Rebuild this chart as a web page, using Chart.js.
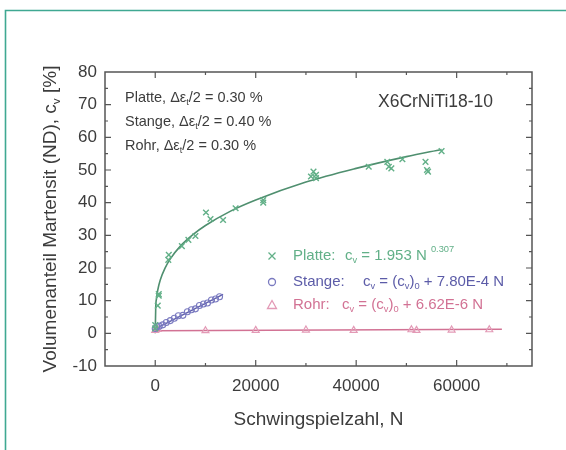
<!DOCTYPE html>
<html>
<head>
<meta charset="utf-8">
<script src="https://cdn.jsdelivr.net/npm/chart.js@4/dist/chart.umd.min.js"></script>
<style>
  html, body { margin: 0; padding: 0; background: #ffffff; }
  #wrap { position: relative; width: 566px; height: 450px; }
</style>
</head>
<body>
<div id="wrap"><canvas id="c" width="566" height="450"></canvas></div>
<script>
// Platte: measured martensite fraction vs. number of cycles
const platteN = [0, 0, 500, 700, 700, 2600, 2700, 5300, 6600, 8000, 10100, 11000, 13500, 16000, 21500, 21500,
                 31000, 31500, 32000, 32000, 42500, 46200, 46500, 47000, 49200, 53800, 54100, 54300, 57000];
const platteV = [1.5, 2.5, 8.5, 12.0, 11.5, 22.5, 24.0, 26.7, 28.6, 29.8, 37.0, 35.0, 34.7, 38.3, 40.8, 40.0,
                 48.0, 49.5, 47.5, 48.5, 51.0, 52.5, 51.0, 50.5, 53.3, 52.5, 50.0, 49.5, 55.8];

// Platte: power-law fit curve  c_v = 1.953 N^0.307
const fitPlatteN = [0, 100, 250, 500, 1000, 2000, 3000, 5000, 7500, 10000, 15000, 20000, 30000, 40000, 50000, 57000];
const fitPlatteV = [0, 8.0, 10.6, 13.2, 16.3, 20.1, 22.8, 26.7, 30.2, 33.0, 37.4, 40.8, 46.3, 50.5, 54.1, 56.3];

// Stange: measured values and linear fit
const stangeN = [0, 300, 800, 1500, 2200, 3000, 3800, 4600, 5500, 6400, 7200, 8000, 8800, 9600, 10400, 11200, 12000, 12800];
const stangeV = [1.5, 2.0, 2.2, 2.6, 3.3, 3.9, 4.6, 5.4, 5.5, 6.6, 7.2, 7.5, 8.5, 9.0, 9.3, 10.2, 10.5, 11.2];
const fitStangeN = [0, 13500];
const fitStangeV = [1.4, 11.93];

// Rohr: measured values and linear fit
const rohrN = [0, 500, 10000, 20000, 30000, 39500, 51000, 52000, 59000, 66500];
const rohrV = [0.9, 1.2, 0.8, 0.9, 1.0, 0.9, 1.1, 0.9, 1.0, 1.1];
const fitRohrN = [0, 69000];
const fitRohrV = [0.8, 1.26];

// axis ticks
const xTickValues = [0, 20000, 40000, 60000];
const xMinorValues = [-10000, 10000, 30000, 50000, 70000];
const yTickValues = [-10, 0, 10, 20, 30, 40, 50, 60, 70, 80];
const yMinorValues = [-5, 5, 15, 25, 35, 45, 55, 65, 75];

const FONT = '"Liberation Sans", Arial, sans-serif';
const TEXT = '#3c3c3c';
const GREEN = '#62b088';
const GREEN_LINE = '#4f8f6f';
const BLUE = '#7a7ac0';
const BLUE_LINE = '#5c5ca8';
const PINK = '#e39ab6';
const PINK_LINE = '#d27294';

function pts(xs, ys) { return xs.map((x, i) => ({ x: x, y: ys[i] })); }

// draws a run of text pieces, some of them as sub- or superscripts
function richWidth(ctx, parts, size) {
  let w = 0;
  parts.forEach(p => {
    const s = (p.sub || p.sup) ? size * 0.62 : size;
    ctx.font = s + 'px ' + FONT;
    w += ctx.measureText(p.t).width;
  });
  return w;
}
function drawRich(ctx, x, y, parts, size, color) {
  ctx.fillStyle = color;
  ctx.textBaseline = 'middle';
  ctx.textAlign = 'left';
  parts.forEach(p => {
    const s = (p.sub || p.sup) ? size * 0.62 : size;
    const dy = p.sub ? size * 0.32 : (p.sup ? -size * 0.42 : 0);
    ctx.font = s + 'px ' + FONT;
    ctx.fillText(p.t, x, y + dy);
    x += ctx.measureText(p.t).width;
  });
}

const decor = {
  id: 'decor',
  beforeDraw(chart) {
    const ctx = chart.ctx;
    ctx.save();
    // page frame
    ctx.strokeStyle = '#3fa892';
    ctx.lineWidth = 1.6;
    ctx.beginPath();
    ctx.moveTo(5.5, 450);
    ctx.lineTo(5.5, 10.5);
    ctx.lineTo(566, 10.5);
    ctx.stroke();
    ctx.restore();
  },
  afterDraw(chart) {
    const ctx = chart.ctx;
    const a = chart.chartArea;
    const xs = chart.scales.x, ys = chart.scales.y;
    ctx.save();
    // plot box
    ctx.strokeStyle = '#555555';
    ctx.lineWidth = 1.5;
    ctx.strokeRect(a.left, a.top, a.right - a.left, a.bottom - a.top);
    // inward ticks on all four sides
    ctx.lineWidth = 1.2;
    ctx.beginPath();
    const tickX = (v, len) => {
      const px = xs.getPixelForValue(v);
      if (px < a.left + 1 || px > a.right - 1) return;
      ctx.moveTo(px, a.bottom); ctx.lineTo(px, a.bottom - len);
      ctx.moveTo(px, a.top); ctx.lineTo(px, a.top + len);
    };
    const tickY = (v, len) => {
      const py = ys.getPixelForValue(v);
      if (py < a.top + 1 || py > a.bottom - 1) return;
      ctx.moveTo(a.left, py); ctx.lineTo(a.left + len, py);
      ctx.moveTo(a.right, py); ctx.lineTo(a.right - len, py);
    };
    xTickValues.forEach(v => tickX(v, 6));
    xMinorValues.forEach(v => tickX(v, 3));
    yTickValues.forEach(v => tickY(v, 6));
    yMinorValues.forEach(v => tickY(v, 3));
    ctx.stroke();

    // axis titles
    const xTitle = 'Schwingspielzahl, N';
    ctx.font = '19px ' + FONT;
    ctx.fillStyle = TEXT;
    ctx.textAlign = 'center';
    ctx.textBaseline = 'middle';
    ctx.fillText(xTitle, (a.left + a.right) / 2, 420);

    const yParts = [{ t: 'Volumenanteil Martensit (ND), c' }, { t: 'v', sub: true }, { t: ' [%]' }];
    const yw = richWidth(ctx, yParts, 19);
    ctx.save();
    ctx.translate(51, (a.top + a.bottom) / 2);
    ctx.rotate(-Math.PI / 2);
    drawRich(ctx, -yw / 2, 0, yParts, 19, TEXT);
    ctx.restore();

    // strain amplitudes
    const amp = [['Platte, ', '0.30 %', 98], ['Stange, ', '0.40 %', 122], ['Rohr, ', '0.30 %', 146]];
    amp.forEach(r => {
      drawRich(ctx, 125, r[2], [{ t: r[0] + 'Δε' }, { t: 't', sub: true }, { t: '/2 = ' + r[1] }], 14.5, TEXT);
    });

    // material
    ctx.font = '17.5px ' + FONT;
    ctx.fillStyle = TEXT;
    ctx.textAlign = 'left';
    ctx.textBaseline = 'middle';
    ctx.fillText('X6CrNiTi18-10', 378, 102);

    // legend with fit equations
    const lx = 272;
    // cross
    ctx.strokeStyle = GREEN; ctx.lineWidth = 1.3;
    ctx.beginPath();
    ctx.moveTo(lx - 3.5, 256 - 3.5); ctx.lineTo(lx + 3.5, 256 + 3.5);
    ctx.moveTo(lx + 3.5, 256 - 3.5); ctx.lineTo(lx - 3.5, 256 + 3.5);
    ctx.stroke();
    // circle
    ctx.strokeStyle = BLUE;
    ctx.beginPath(); ctx.arc(lx, 282, 3.5, 0, Math.PI * 2); ctx.stroke();
    // triangle
    ctx.strokeStyle = PINK;
    ctx.beginPath();
    ctx.moveTo(lx, 305 - 4.5); ctx.lineTo(lx + 4.5, 305 + 3.5); ctx.lineTo(lx - 4.5, 305 + 3.5); ctx.closePath();
    ctx.stroke();

    const LS = 15;
    drawRich(ctx, 293, 256, [{ t: 'Platte:' }], LS, GREEN);
    drawRich(ctx, 345, 256, [{ t: 'c' }, { t: 'v', sub: true }, { t: ' = 1.953 N ' }, { t: '0.307', sup: true }], LS, GREEN);
    drawRich(ctx, 293, 282, [{ t: 'Stange:' }], LS, BLUE_LINE);
    drawRich(ctx, 363, 282, [{ t: 'c' }, { t: 'v', sub: true }, { t: ' = (c' }, { t: 'v', sub: true }, { t: ')' }, { t: '0', sub: true }, { t: ' + 7.80E-4 N' }], LS, BLUE_LINE);
    drawRich(ctx, 293, 305, [{ t: 'Rohr:' }], LS, PINK_LINE);
    drawRich(ctx, 342, 305, [{ t: 'c' }, { t: 'v', sub: true }, { t: ' = (c' }, { t: 'v', sub: true }, { t: ')' }, { t: '0', sub: true }, { t: ' + 6.62E-6 N' }], LS, PINK_LINE);
    ctx.restore();
  }
};

new Chart(document.getElementById('c'), {
  type: 'scatter',
  data: {
    datasets: [
      { label: 'Rohr fit', data: pts(fitRohrN, fitRohrV), showLine: true, borderColor: PINK_LINE, borderWidth: 1.6, pointRadius: 0, order: 6 },
      { label: 'Stange fit', data: pts(fitStangeN, fitStangeV), showLine: true, borderColor: BLUE_LINE, borderWidth: 1.4, pointRadius: 0, order: 5 },
      { label: 'Platte fit', data: pts(fitPlatteN, fitPlatteV), showLine: true, borderColor: GREEN_LINE, borderWidth: 1.6, pointRadius: 0, tension: 0.3, cubicInterpolationMode: 'monotone', order: 4 },
      { label: 'Rohr', data: pts(rohrN, rohrV), pointStyle: 'triangle', pointRadius: 4, borderColor: PINK, backgroundColor: 'rgba(0,0,0,0)', borderWidth: 1.2, order: 3 },
      { label: 'Stange', data: pts(stangeN, stangeV), pointStyle: 'circle', pointRadius: 3, borderColor: BLUE, backgroundColor: 'rgba(0,0,0,0)', borderWidth: 1.1, order: 2 },
      { label: 'Platte', data: pts(platteN, platteV), pointStyle: 'crossRot', pointRadius: 4, borderColor: GREEN, borderWidth: 1.4, order: 1 }
    ]
  },
  options: {
    responsive: false,
    animation: false,
    layout: { padding: { left: 0, top: 72, right: 34, bottom: 0 } },
    plugins: { legend: { display: false }, tooltip: { enabled: false } },
    scales: {
      x: {
        type: 'linear', min: -10000, max: 75000,
        grid: { display: false, drawTicks: false },
        border: { display: false },
        afterBuildTicks: s => { s.ticks = xTickValues.map(v => ({ value: v })); },
        afterFit: s => { s.height = 84; },
        ticks: { padding: 10, color: TEXT, font: { family: FONT, size: 17 }, callback: v => String(v), maxRotation: 0 }
      },
      y: {
        type: 'linear', min: -10, max: 80,
        grid: { display: false, drawTicks: false },
        border: { display: false },
        afterBuildTicks: s => { s.ticks = yTickValues.map(v => ({ value: v })); },
        afterFit: s => { s.width = 105; },
        ticks: { padding: 8, color: TEXT, font: { family: FONT, size: 17 }, callback: v => String(v) }
      }
    }
  },
  plugins: [decor]
});
</script>
</body>
</html>
